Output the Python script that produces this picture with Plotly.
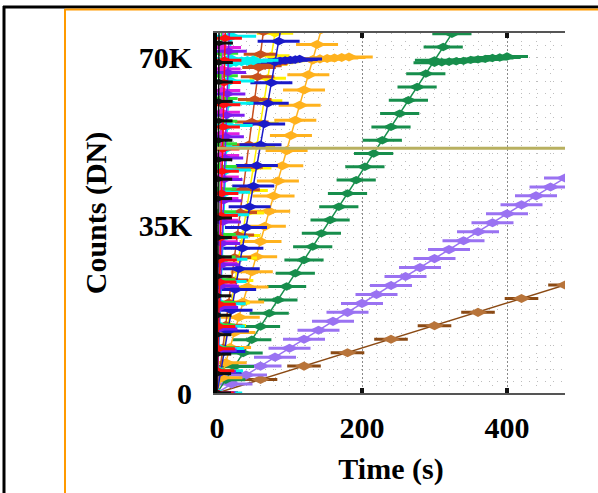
import plotly.graph_objects as go

# ---------------- data (time in s, counts in DN) ----------------
t_brown = [0, 60, 120, 180, 240, 300, 360, 420, 480]
dn_brown = [0, 2800, 5600, 8400, 11200, 14000, 16800, 19700, 22500]

t_purple = [0, 20, 40, 60, 80, 100, 120, 140, 160, 180, 200, 220, 240,
            260, 280, 300, 320, 340, 360, 380, 400, 420, 440, 460, 480]
dn_purple = [0, 1870, 3730, 5600, 7470, 9330, 11200, 13070, 14930, 16800,
             18670, 20530, 22400, 24270, 26130, 28000, 29870, 31730, 33600,
             35470, 37330, 39200, 41070, 42930, 44800]

t_green = [0, 12, 24, 36, 48, 60, 72, 84, 96, 108, 120, 132, 144, 156, 168,
           180, 192, 204, 216, 228, 240, 252, 264, 276, 288, 300, 312, 324, 336]
dn_green = [0, 2770, 5540, 8320, 11090, 13860, 16630, 19400, 22180, 24950,
            27720, 30490, 33260, 36040, 38810, 41580, 44350, 47120, 49900,
            52670, 55440, 58210, 60980, 63760, 66530, 69300, 72070, 74840, 77620]
t_green_sat = [300, 310, 320, 330, 340, 350, 360, 370, 380, 390, 400]
dn_green_sat = [68800, 68900, 69000, 69100, 69200, 69400, 69500, 69600,
                69800, 69900, 70100]

t_orange = [0, 6, 12, 18, 24, 30, 36, 42, 48, 54, 60, 66, 72, 78, 84, 90, 96,
            102, 108, 114, 120, 126, 132, 138, 144, 150]
dn_orange = [0, 3160, 6310, 9470, 12620, 15780, 18940, 22090, 25250, 28400,
             31560, 34720, 37870, 41030, 44180, 47340, 50500, 53650, 56810,
             59960, 63120, 66280, 69430, 72590, 75740, 78900]
t_orange_sat = [132, 142, 152, 162, 172, 182]
dn_orange_sat = [69400, 69600, 69700, 69800, 69900, 70000]

t_blue = [0, 5, 10, 15, 20, 25, 30, 35, 40, 45, 50, 55, 60, 65, 70, 75, 80, 85, 90]
dn_blue = [0, 4310, 8620, 12930, 17240, 21550, 25860, 30170, 34480, 38790,
           43100, 47410, 51720, 56030, 60340, 64650, 68960, 73270, 77580]
t_blue_sat = [80, 87, 94, 101, 108, 114]
dn_blue_sat = [69000, 69200, 69300, 69400, 69500, 69600]

t_yellow = [0, 5, 10, 15, 20, 25, 30, 35, 40, 45, 50, 55, 60, 65, 70, 75, 80, 85]
dn_yellow = [0, 4690, 9370, 14060, 18740, 23430, 28110, 32800, 37480, 42170,
             46850, 51540, 56220, 60910, 65590, 70280, 74960, 79650]
t_yellow_sat = [72, 80, 88, 96]
dn_yellow_sat = [68500, 68800, 69000, 69200]

t_sienna = [0, 4, 8, 12, 16, 20, 24, 28, 32, 36, 40, 44, 48, 52, 56, 60, 64, 68]
dn_sienna = [0, 4700, 9410, 14110, 18820, 23520, 28220, 32930, 37630, 42340,
             47040, 51740, 56450, 61150, 65860, 70560, 75260, 79970]
t_sienna_sat = [58, 66, 74, 82]
dn_sienna_sat = [67800, 68200, 68600, 69000]

t_cyan = [0, 1.2, 2.4, 3.6, 4.8, 6.0, 7.2, 8.4, 9.6, 10.8, 12.0, 13.2, 14.4,
          15.6, 16.8, 18.0, 19.2, 20.4]
dn_cyan = [0, 4640, 9290, 13930, 18580, 23220, 27860, 32510, 37150, 41800,
           46440, 51080, 55730, 60370, 65020, 69660, 74300, 78950]
t_cyan_sat = [18, 26, 34, 42, 50]
dn_cyan_sat = [68800, 69000, 69100, 69200, 69300]

t_violet = [0, 1, 2, 3, 4, 5, 6, 7, 8, 9, 10, 11, 12, 13, 14, 15, 16, 17]
dn_violet = [0, 4450, 8900, 13350, 17800, 22250, 26700, 31150, 35600, 40050,
             44500, 48950, 53400, 57850, 62300, 66750, 71200, 75650]

t_red = [0, 0.7, 1.4, 2.1, 2.8, 3.5, 4.2, 4.9, 5.6, 6.3, 7.0, 7.7, 8.4, 9.1,
         9.8, 10.5, 11.2, 11.9]
dn_red = [0, 4620, 9240, 13860, 18480, 23100, 27720, 32340, 36960, 41580,
          46200, 50820, 55440, 60060, 64680, 69300, 73920, 78540]

t_magenta = [0, 0.5, 1.0, 1.5, 2.0, 2.5, 3.0, 3.5, 4.0, 4.5, 5.0, 5.5, 6.0,
             6.5, 7.0, 7.5, 8.0, 8.5]
dn_magenta = [0, 4500, 9000, 13500, 18000, 22500, 27000, 31500, 36000, 40500,
              45000, 49500, 54000, 58500, 63000, 67500, 72000, 76500]

t_lime = [0, 0.4, 0.8, 1.2, 1.6, 2.0, 2.4, 2.8, 3.2, 3.6, 4.0, 4.4, 4.8, 5.2,
          5.6, 6.0, 6.4]
dn_lime = [0, 4720, 9440, 14160, 18880, 23600, 28320, 33040, 37760, 42480,
           47200, 51920, 56640, 61360, 66080, 70800, 75520]

t_black = [0, 0.15, 0.3, 0.45, 0.6, 0.75, 0.9, 1.05, 1.2, 1.35, 1.5, 1.65,
           1.8, 1.95, 2.1, 2.25, 2.4, 2.55, 2.7, 2.85]
dn_black = [0, 4050, 8100, 12150, 16200, 20250, 24300, 28350, 32400, 36450,
            40500, 44550, 48600, 52650, 56700, 60750, 64800, 68850, 72900, 76950]

threshold_t = [0, 480]
threshold_dn = [51000, 51000]

x_ticks = [0, 200, 400]
x_tick_text = ["0", "200", "400"]
y_ticks = [0, 35000, 70000]
y_tick_text = ["0", "35K", "70K"]

# ---------------- figure ----------------
fig = go.Figure()


def add_series(t, dn, color, spike=28, core=12, lw=1.5, core_color=None):
    fig.add_trace(go.Scatter(x=t, y=dn, mode="lines",
                             line=dict(color=color, width=lw), hoverinfo="skip"))
    fig.add_trace(go.Scatter(x=t, y=dn, mode="markers",
                             marker=dict(symbol="line-ew", size=spike,
                                         line=dict(color=color, width=3))))
    fig.add_trace(go.Scatter(x=t, y=dn, mode="markers",
                             marker=dict(symbol="diamond-wide", size=core,
                                         color=core_color or color,
                                         line=dict(width=0))))


add_series(t_brown, dn_brown, "#8B4A14", spike=24, core=13, core_color="#B8743A")
add_series(t_purple, dn_purple, "#9A72F2", spike=30, core=13)
add_series(t_green_sat, dn_green_sat, "#178E4C", spike=30, core=12)
add_series(t_green, dn_green, "#178E4C", spike=28, core=12)
add_series(t_orange_sat, dn_orange_sat, "#FFB21E", spike=34, core=13)
add_series(t_orange, dn_orange, "#FFB21E", spike=30, core=13)
add_series(t_yellow_sat, dn_yellow_sat, "#FFF000", spike=26, core=12)
add_series(t_yellow, dn_yellow, "#FFF000", spike=26, core=12)
add_series(t_sienna_sat, dn_sienna_sat, "#C8501E", spike=24, core=12)
add_series(t_sienna, dn_sienna, "#C8501E", spike=24, core=12)
add_series(t_blue_sat, dn_blue_sat, "#1A1AC8", spike=32, core=12)
add_series(t_blue, dn_blue, "#1A1AC8", spike=30, core=12)
add_series(t_cyan_sat, dn_cyan_sat, "#00F0F0", spike=36, core=14)
add_series(t_cyan, dn_cyan, "#00F0F0", spike=36, core=14)
add_series(t_lime, dn_lime, "#30E030", spike=24, core=10)
add_series(t_magenta, dn_magenta, "#E020E0", spike=26, core=11)
add_series(t_violet, dn_violet, "#7A1CF0", spike=26, core=11)
add_series(t_red, dn_red, "#FF1010", spike=24, core=11)
add_series(t_black, dn_black, "#101010", spike=20, core=9)

fig.add_trace(go.Scatter(x=threshold_t, y=threshold_dn, mode="lines",
                         line=dict(color="#B8B060", width=3), hoverinfo="skip"))

# ---------------- page decorations (pixel -> paper) ----------------
L, R, T, B = 217, 565, 33, 393


def px(x):
    return (x - L) / (R - L)


def py(y):
    return (B - y) / (B - T)


shapes = [
    dict(type="line", xref="paper", yref="paper", x0=px(4), x1=px(4),
         y0=py(6), y1=py(493), line=dict(color="black", width=3)),
    dict(type="line", xref="paper", yref="paper", x0=px(3), x1=px(598),
         y0=py(7), y1=py(7), line=dict(color="black", width=3)),
    dict(type="line", xref="paper", yref="paper", x0=px(65), x1=px(65),
         y0=py(9), y1=py(493), line=dict(color="#FF9A00", width=2)),
    dict(type="line", xref="paper", yref="paper", x0=px(65), x1=px(598),
         y0=py(9.5), y1=py(9.5), line=dict(color="#FF9A00", width=2)),
]

font_main = dict(family="Liberation Serif", size=30, color="black", weight="bold")

fig.update_layout(
    width=598, height=493,
    margin=dict(l=L, r=598 - R, t=T, b=493 - B, autoexpand=False),
    paper_bgcolor="white", plot_bgcolor="white",
    showlegend=False,
    shapes=shapes,
    font=font_main,
    xaxis=dict(
        range=[0, 480], tickmode="array", tickvals=x_ticks, ticktext=x_tick_text,
        showgrid=True, gridcolor="#8A8A8A", griddash="2px,2px", gridwidth=1,
        minor=dict(tick0=0, dtick=20, showgrid=True, gridcolor="#BDBDBD",
                   griddash="1px,7px", gridwidth=1),
        showline=True, linecolor="#555555", linewidth=2, mirror="ticks",
        ticks="inside", ticklen=5, tickwidth=4, tickcolor="#111111",
        zeroline=False, tickfont=font_main, ticklabelstandoff=7,
        automargin=False,
        title=dict(text="Time (s)", font=font_main, standoff=15),
    ),
    yaxis=dict(
        range=[0, 75000], tickmode="array", tickvals=y_ticks, ticktext=y_tick_text,
        showgrid=False,
        minor=dict(tick0=0, dtick=2500, showgrid=True, gridcolor="#BDBDBD",
                   griddash="1px,7px", gridwidth=1),
        showline=True, linecolor="black", linewidth=4,
        ticks="", zeroline=False, tickfont=font_main, ticklabelstandoff=15,
        automargin=False,
        title=dict(text="Counts (DN)", font=font_main, standoff=24),
    ),
)

fig.write_html(
    "out.html",
    config={"displayModeBar": False},
    post_script="document.body.style.margin='0';document.body.style.overflow='hidden';",
)
